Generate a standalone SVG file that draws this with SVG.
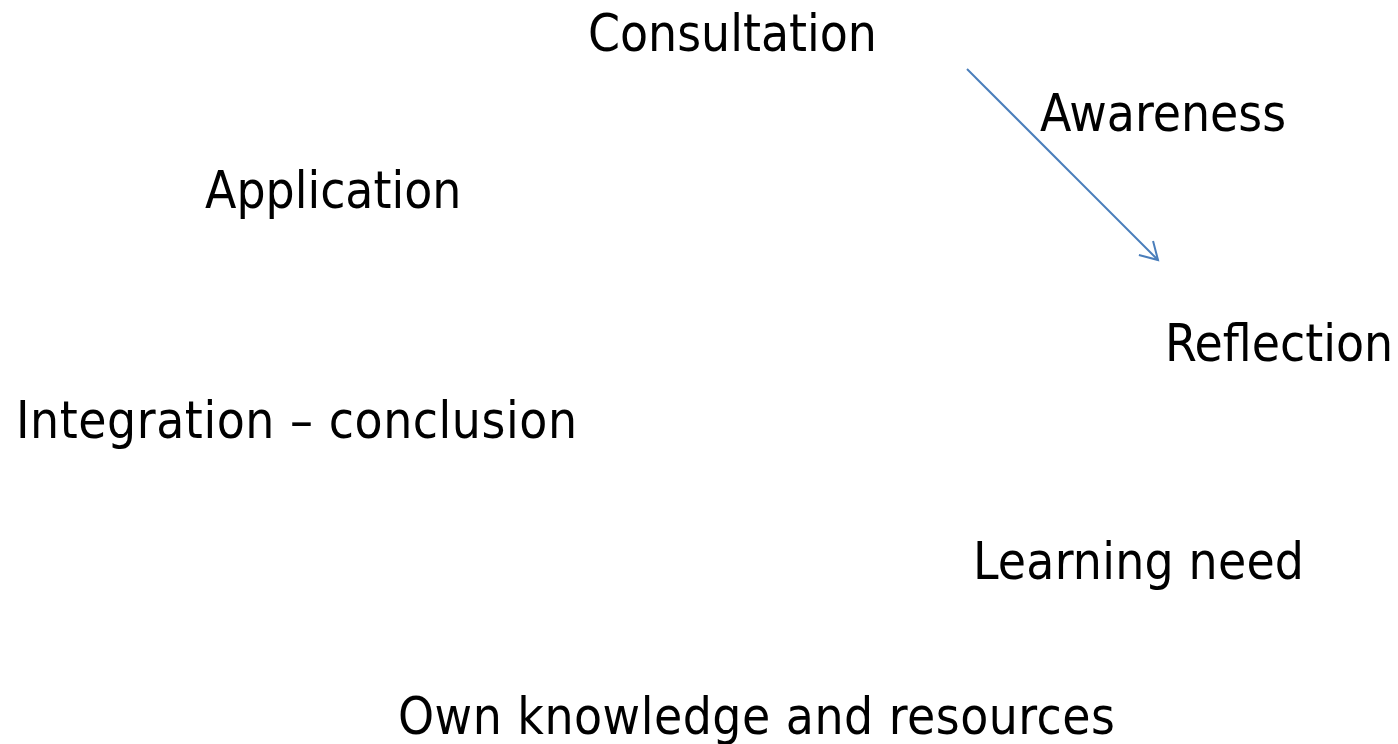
<svg xmlns="http://www.w3.org/2000/svg" width="1398" height="744" viewBox="0 0 1398 744">
<style>
.lbl{font-family:"DejaVu Sans Condensed","DejaVu Sans",sans-serif;font-stretch:condensed;font-size:51px;fill:#000}
.conn{stroke:#4a7ebb;stroke-width:2;fill:none}
</style>
<defs>
<marker id="arr" viewBox="-2 -2 24 26" refX="17" refY="10" markerWidth="24" markerHeight="26" markerUnits="userSpaceOnUse" orient="auto">
<path d="M0,0 L17,10 L0,20" fill="none" stroke="#4a7ebb" stroke-width="2"/>
</marker>
</defs>
<rect width="1398" height="744" fill="#fff"/>
<g id="connectors">
<line class="conn" x1="967" y1="69" x2="1158" y2="260" marker-end="url(#arr)"/>
</g>
<g id="consultation"><text class="lbl" x="588" y="51">Consultation</text></g>
<g id="awareness"><text class="lbl" x="1040" y="131">Awareness</text></g>
<g id="application"><text class="lbl" x="205" y="208">Application</text></g>
<g id="reflection"><text class="lbl" x="1165" y="361">Reflection</text></g>
<g id="integration"><text class="lbl" x="16" y="438" textLength="561">Integration – conclusion</text></g>
<g id="learning-need"><text class="lbl" x="973" y="579" textLength="331">Learning need</text></g>
<g id="own-knowledge"><text class="lbl" x="398" y="734" textLength="717">Own knowledge and resources</text></g>
</svg>
